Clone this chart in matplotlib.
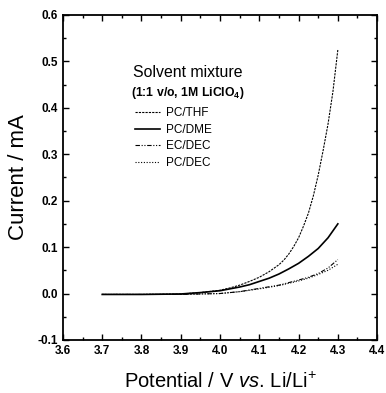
import matplotlib
matplotlib.use('Agg')
import matplotlib.pyplot as plt
from matplotlib.ticker import MultipleLocator, FormatStrFormatter

plt.rcParams['font.family'] = ['Liberation Sans', 'DejaVu Sans']
plt.rcParams['mathtext.fontset'] = 'custom'
plt.rcParams['mathtext.rm'] = 'Liberation Sans'
plt.rcParams['mathtext.it'] = 'Liberation Sans:italic'
plt.rcParams['mathtext.bf'] = 'Liberation Sans:bold'

# potential (V vs Li/Li+) and current (mA)
thf_v = [3.70, 3.80, 3.90, 3.95, 4.00, 4.025, 4.05, 4.075, 4.10, 4.125, 4.15, 4.1625, 4.175,
         4.1875, 4.20, 4.2125, 4.225, 4.2375, 4.25, 4.2625, 4.275, 4.2875, 4.30]
thf_i = [-0.002, -0.002, -0.001, 0.002, 0.007, 0.012, 0.018, 0.026, 0.035, 0.047, 0.062, 0.072, 0.085,
         0.101, 0.12, 0.145, 0.173, 0.21, 0.255, 0.308, 0.365, 0.435, 0.525]

dme_v = [3.70, 3.80, 3.90, 3.95, 4.00, 4.025, 4.05, 4.075, 4.10, 4.125, 4.15, 4.175, 4.20,
         4.225, 4.25, 4.275, 4.30]
dme_i = [-0.002, -0.002, -0.001, 0.002, 0.006, 0.010, 0.014, 0.019, 0.026, 0.033, 0.042, 0.053, 0.065,
         0.080, 0.097, 0.12, 0.15]

ecdec_v = [3.70, 3.80, 3.90, 4.00, 4.05, 4.10, 4.15, 4.20, 4.225, 4.25, 4.275, 4.30]
ecdec_i = [-0.002, -0.002, -0.002, 0.0, 0.004, 0.011, 0.018, 0.029, 0.035, 0.043, 0.055, 0.073]

pcdec_v = [3.70, 3.80, 3.90, 4.00, 4.05, 4.10, 4.15, 4.20, 4.225, 4.25, 4.275, 4.30]
pcdec_i = [-0.002, -0.002, -0.002, 0.0, 0.004, 0.010, 0.017, 0.027, 0.033, 0.041, 0.050, 0.063]

fig = plt.figure(figsize=(3.86, 3.93), dpi=100)
ax = fig.add_axes([0.163, 0.135, 0.814, 0.827])

ax.plot(thf_v, thf_i, color='black', lw=0.8, ls=(0, (2, 1)), label='PC/THF')
ax.plot(dme_v, dme_i, color='black', lw=1.2, ls='-', label='PC/DME')
ax.plot(ecdec_v, ecdec_i, color='black', lw=0.8, ls=(0, (4, 1.5, 1, 1.5, 1, 1.5)), label='EC/DEC')
ax.plot(pcdec_v, pcdec_i, color='black', lw=0.8, ls=(0, (1, 1.5)), label='PC/DEC')

ax.set_xlim(3.6, 4.4)
ax.set_ylim(-0.1, 0.6)
ax.xaxis.set_major_locator(MultipleLocator(0.1))
ax.xaxis.set_minor_locator(MultipleLocator(0.05))
ax.yaxis.set_major_locator(MultipleLocator(0.1))
ax.yaxis.set_minor_locator(MultipleLocator(0.05))
ax.xaxis.set_major_formatter(FormatStrFormatter('%.1f'))
ax.yaxis.set_major_formatter(FormatStrFormatter('%.1f'))
ax.tick_params(which='both', direction='in', top=True, right=True, width=1)
ax.tick_params(which='major', length=4.5, labelsize=8.5)
ax.tick_params(which='minor', length=2)
for lab in ax.get_xticklabels() + ax.get_yticklabels():
    lab.set_fontweight('bold')
for sp in ax.spines.values():
    sp.set_linewidth(1.3)

ax.set_xlabel(r'$\mathrm{Potential\ /\ V\ }\mathit{vs.}\mathrm{\,Li/Li^{+}}$', fontsize=14.5, labelpad=11)
ax.set_ylabel('Current / mA', fontsize=16, labelpad=6)

ax.text(0.396, 0.822, 'Solvent mixture', transform=ax.transAxes, fontsize=11.4, ha='center', va='center')
ax.text(0.396, 0.76, r'(1:1 v/o, 1M LiClO$_\mathbf{4}$)', transform=ax.transAxes, fontsize=8.8, fontweight='bold',
        ha='center', va='center')
ax.legend(loc='upper left', bbox_to_anchor=(0.229, 0.717), frameon=False, fontsize=8.5,
          handlelength=2.1, handletextpad=0.5, labelspacing=0.4, borderpad=0, borderaxespad=0)

fig.savefig('out.png', dpi=100)
